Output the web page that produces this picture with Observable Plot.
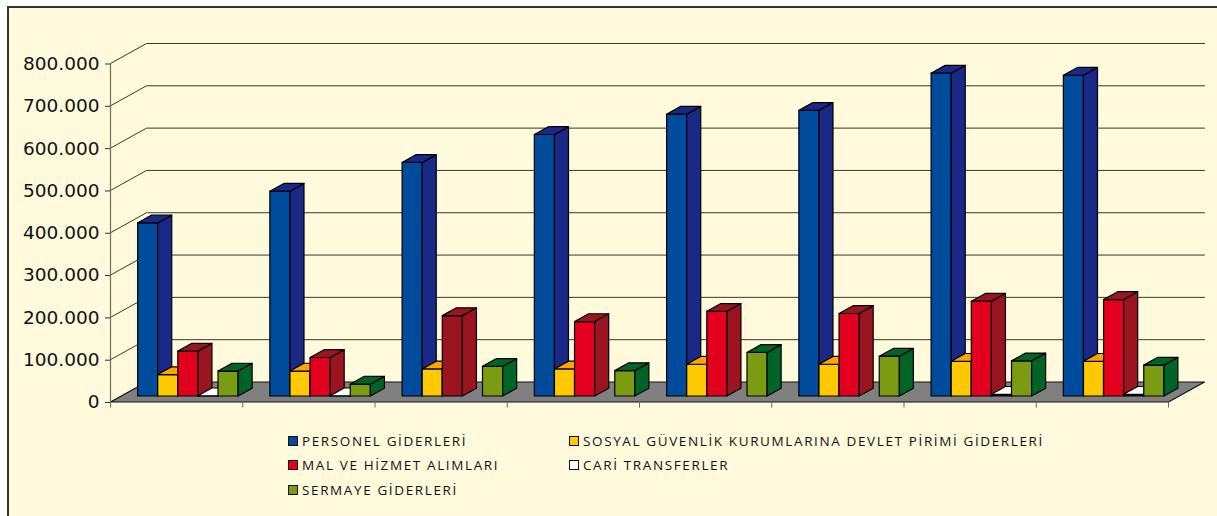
<!DOCTYPE html>
<html><head><meta charset="utf-8">
<script src="https://cdn.jsdelivr.net/npm/d3@7"></script>
<script src="https://cdn.jsdelivr.net/npm/@observablehq/plot@0.6"></script>
<style>
html,body{margin:0;padding:0;background:#fff;width:1217px;height:516px;overflow:hidden}
#panel{position:absolute;left:7px;top:6px;right:0;bottom:0;background:#FFFADC;border-left:2px solid #333;border-top:2px solid #333}
#chart{position:absolute;left:0;top:0}
#chart svg{background:transparent;overflow:visible}
.lg{position:absolute;font:13.5px "Open Sans",sans-serif;letter-spacing:1.62px;color:#111;white-space:nowrap;line-height:16px}
.sw{position:absolute;width:8px;height:8px;border:1px solid #111}
</style></head><body>
<div id="panel"></div><div id="chart"></div><div id="legend"></div>
<script>
const categories = [1,2,3,4,5,6,7,8];
const seriesNames = ["PERSONEL GİDERLERİ","SOSYAL GÜVENLİK KURUMLARINA DEVLET PİRİMİ GİDERLERİ","MAL VE HİZMET ALIMLARI","CARİ TRANSFERLER","SERMAYE GİDERLERİ"];
const personel = [409000,484000,552000,618000,666000,675000,763000,758000];
const sosyal   = [50600,59000,64000,64000,75000,75000,82000,82000];
const mal      = [106000,91000,190000,176000,200000,195000,224000,228000];
const cari     = [500,500,0,0,0,0,4000,4000];
const sermaye  = [59000,28000,70000,60000,103000,94000,83000,73000];
const seriesValues = [personel,sosyal,mal,cari,sermaye];
const frontColors = ["#004B9B","#FFC800","#E2001E","#FFFFFF","#7A9B12"];
const sideColors  = ["#1A2888","#FFA500","#9B1520","#FFFFFF","#006428"];
const malFrontByCategory = {2:"#9B1520"};
const cariFrontByCategory = {6:"#000000",7:"#000000"};
const yTicks = [0,100000,200000,300000,400000,500000,600000,700000,800000];
const W=1217,H=430;
const pxX=132.25, pxY=42.3/100000;
const wallDX=36/pxX, wallDY=20/pxY;
const barW=20.1/pxX, start=27.1/pxX, nearF=.3, depthF=.39;
const polys=[];
categories.forEach((c,ci)=>{
  seriesValues.forEach((vals,si)=>{
    const v=vals[ci];
    if(!v) return;
    const x0=ci+start+si*barW, x1=x0+barW;
    const oy=wallDY*nearF;
    const dx=wallDX*depthF, dy=wallDY*depthF;
    const b=oy, t=oy+v;
    const id=`${ci}-${si}`;
    const front=(si===2&&malFrontByCategory[ci])||(si===3&&cariFrontByCategory[ci])||frontColors[si];
    const add=(k,fill,pts)=>pts.forEach(([x,y])=>polys.push({id:id+k,fill,x,y}));
    add("f",front,[[x0,b],[x1,b],[x1,t],[x0,t]]);
    add("s",sideColors[si],[[x1,b],[x1+dx,b+dy],[x1+dx,t+dy],[x1,t]]);
    add("t",sideColors[si],[[x0,t],[x1,t],[x1+dx,t+dy],[x0+dx,t+dy]]);
  });
});
const grid=yTicks.slice(1).flatMap(v=>[
  {v,x:0,y:v},{v,x:wallDX,y:v+wallDY},{v,x:8+wallDX,y:v+wallDY}]);
const floor=[{x:0,y:0},{x:8,y:0},{x:8+wallDX,y:wallDY},{x:wallDX,y:wallDY}];
const fmt=d=>d===0?"0":d3.format(",")(d).replace(/,/g,".");
const plot=Plot.plot({
  width:W,height:H,marginLeft:110,marginRight:W-1168,marginTop:63,marginBottom:H-401.5,
  x:{domain:[0,8],axis:null},
  y:{domain:[0,800000],axis:null},
  style:{background:"transparent",overflow:"visible"},
  marks:[
    Plot.line(grid,{x:"x",y:"y",z:"v",stroke:"#3a3828",strokeWidth:1}),
    Plot.line(floor,{x:"x",y:"y",fill:"#808080",stroke:"#111",strokeWidth:1.2,curve:"linear-closed"}),
    Plot.ruleX([0],{y1:0,y2:800000,stroke:"#6f6c58",strokeWidth:1.2}),
    Plot.axisY({ticks:yTicks,tickFormat:fmt,tickSize:5,tickPadding:6,anchor:"left",label:null,stroke:"#333",
      fontSize:18.5,fontFamily:"DejaVu Sans",fill:"#111",dy:0.5}),
    Plot.axisX({ticks:d3.range(0,9),tickFormat:()=>"",tickSize:6,label:null,stroke:"#6f6c58"}),
    Plot.line(polys,{x:"x",y:"y",z:"id",fill:"fill",stroke:"#000",strokeWidth:1.2,curve:"linear-closed"})
  ]
});
document.getElementById("chart").append(plot);
const lg=document.getElementById("legend");
const pos=[[288,302,441],[569,583,441],[288,302,465],[569,583,465],[288,302,490]];
seriesNames.forEach((n,i)=>{
  const [sx,tx,cy]=pos[i];
  const s=document.createElement("div");s.className="sw";s.style.cssText=`left:${sx}px;top:${cy-5}px;background:${frontColors[i]}`;
  const t=document.createElement("div");t.className="lg";t.textContent=n;t.style.cssText=`left:${tx}px;top:${cy-8}px`;
  lg.append(s,t);
});
</script></body></html>
